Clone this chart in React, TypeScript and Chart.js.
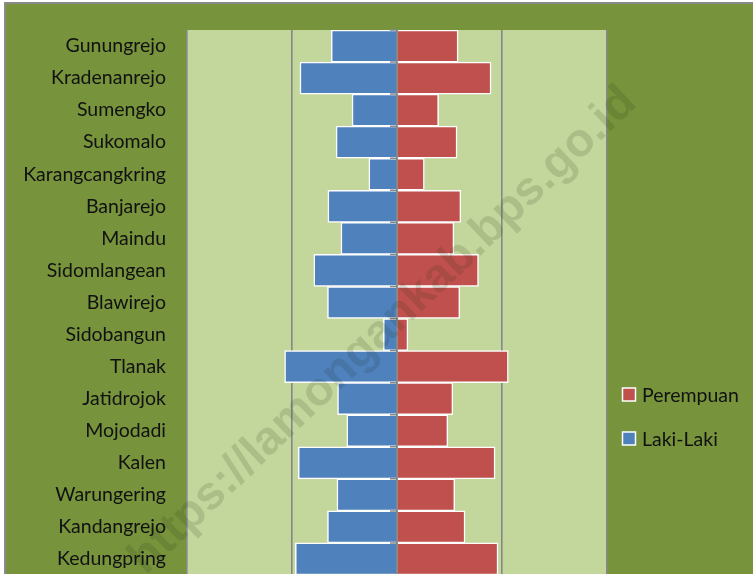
import React, { useEffect, useRef } from "react";
import { Chart, registerables } from "chart.js";

Chart.register(...registerables);

const categories = [
  "Gunungrejo", "Kradenanrejo", "Sumengko", "Sukomalo", "Karangcangkring",
  "Banjarejo", "Maindu", "Sidomlangean", "Blawirejo", "Sidobangun",
  "Tlanak", "Jatidrojok", "Mojodadi", "Kalen", "Warungering",
  "Kandangrejo", "Kedungpring",
];
const lakiLaki = [313, 462, 214, 290, 134, 329, 267, 396, 331, 65, 535, 283, 239, 470, 286, 331, 484];
const perempuan = [291, 448, 198, 286, 130, 304, 271, 388, 299, 52, 530, 266, 242, 467, 275, 324, 481];
const seriesNames = ["Perempuan", "Laki-Laki"];
const axisMin = -1000;
const axisMax = 1000;
const axisStep = 500;
const watermark = "https://lamongankab.bps.go.id";

const OLIVE = "#77933C";
const PLOT = "#C3D69B";
const BLUE = "#4F81BD";
const RED = "#C0504D";
const GRID = "#878787";
const TEXT = "#111111";
const LABEL_FONT = "Lato, 'Open Sans', sans-serif";
const LABEL_SIZE = 19.5;

const bgPlugin = {
  id: "bgPlugin",
  beforeDraw(chart: any) {
    const { ctx, chartArea: a, width, height } = chart;
    ctx.save();
    ctx.fillStyle = OLIVE;
    ctx.fillRect(0, 0, width, height);
    ctx.fillStyle = PLOT;
    ctx.fillRect(a.left, a.top, a.right - a.left, a.bottom - a.top);
    ctx.restore();
  },
};

const axisPlugin = {
  id: "axisPlugin",
  afterDatasetsDraw(chart: any) {
    const { ctx, chartArea: a, scales } = chart;
    const x0 = scales.x.getPixelForValue(0);
    ctx.save();
    ctx.strokeStyle = GRID;
    ctx.lineWidth = 1.5;
    ctx.beginPath();
    ctx.moveTo(x0, a.top);
    ctx.lineTo(x0, a.bottom);
    for (let i = 0; i <= categories.length; i++) {
      const y = scales.y.getPixelForValue(i - 0.5);
      ctx.moveTo(x0 - 7, y);
      ctx.lineTo(x0, y);
    }
    ctx.stroke();
    ctx.restore();
  },
};

const legendPlugin = {
  id: "legendPlugin",
  afterDraw(chart: any) {
    const { ctx, chartArea: a } = chart;
    ctx.save();
    chart.data.datasets.forEach((ds: any, k: number) => {
      const bx = a.right + 15.5;
      const by = a.top + 358 + k * 44;
      ctx.fillStyle = ds.backgroundColor;
      ctx.fillRect(bx, by, 13, 13);
      ctx.strokeStyle = "#ffffff";
      ctx.lineWidth = 1.5;
      ctx.strokeRect(bx, by, 13, 13);
      ctx.fillStyle = TEXT;
      ctx.font = `${LABEL_SIZE}px ${LABEL_FONT}`;
      ctx.textBaseline = "middle";
      ctx.textAlign = "left";
      ctx.fillText(ds.label, bx + 19.5, by + 7.5);
    });
    ctx.restore();
  },
};

const watermarkPlugin = {
  id: "watermarkPlugin",
  afterDraw(chart: any) {
    const { ctx } = chart;
    ctx.save();
    ctx.translate(386, 336);
    ctx.rotate((-43.7 * Math.PI) / 180);
    ctx.font = "bold 47px 'Liberation Sans', Arial, sans-serif";
    ctx.fillStyle = "rgba(30, 50, 20, 0.14)";
    ctx.textAlign = "center";
    ctx.textBaseline = "alphabetic";
    ctx.fillText(watermark, 0, 0);
    ctx.restore();
  },
};

export default function App() {
  const ref = useRef<HTMLCanvasElement | null>(null);

  useEffect(() => {
    if (!ref.current) return;
    const chart = new Chart(ref.current, {
      type: "bar",
      data: {
        labels: categories,
        datasets: [
          {
            label: seriesNames[0],
            data: perempuan,
            backgroundColor: RED,
            borderColor: "#ffffff",
            borderWidth: 1.5,
            borderSkipped: "start",
            barPercentage: 1,
            categoryPercentage: 1,
          },
          {
            label: seriesNames[1],
            data: lakiLaki.map((v) => -v),
            backgroundColor: BLUE,
            borderColor: "#ffffff",
            borderWidth: 1.5,
            borderSkipped: "start",
            barPercentage: 1,
            categoryPercentage: 1,
          },
        ],
      },
      options: {
        indexAxis: "y",
        responsive: false,
        animation: false,
        devicePixelRatio: 1,
        layout: { padding: { top: 26, bottom: 1, right: 146, left: 0 } },
        plugins: {
          legend: { display: false },
          tooltip: { enabled: false },
          title: { display: false },
        },
        scales: {
          x: {
            stacked: true,
            min: axisMin,
            max: axisMax,
            ticks: { display: false, stepSize: axisStep },
            grid: { color: GRID, lineWidth: 1.6, drawTicks: false },
            border: { display: false },
          },
          y: {
            stacked: true,
            ticks: {
              color: TEXT,
              padding: 21,
              font: { family: LABEL_FONT, size: LABEL_SIZE },
            },
            grid: { display: false, drawTicks: false },
            border: { display: false },
            afterFit: (scale: any) => {
              scale.width = 181;
              scale.paddingTop = 0;
              scale.paddingBottom = 0;
            },
          },
        },
      },
      plugins: [bgPlugin, axisPlugin, legendPlugin, watermarkPlugin],
    });
    return () => chart.destroy();
  }, []);

  return (
    <div
      style={{
        position: "absolute",
        left: 0,
        top: 0,
        width: 753,
        height: 574,
        overflow: "hidden",
        background: "#ffffff",
      }}
    >
      <div
        style={{
          position: "absolute",
          left: 4,
          top: 2,
          borderLeft: "2px solid #8a8a8a",
          borderTop: "2px solid #8a8a8a",
        }}
      >
        <canvas ref={ref} width={747} height={572} style={{ display: "block" }} />
      </div>
    </div>
  );
}
